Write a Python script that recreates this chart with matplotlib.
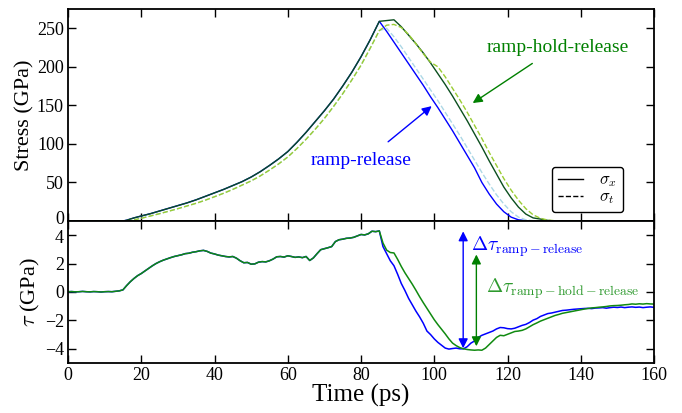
import matplotlib
matplotlib.use("Agg")
import matplotlib.pyplot as plt
from matplotlib.transforms import ScaledTranslation

plt.rcParams['font.family'] = ['Liberation Serif', 'DejaVu Serif']
plt.rcParams['mathtext.fontset'] = 'cm'

# ---------------- Stress data (GPa) ----------------
t_ramp = [0, 15, 16, 17, 18, 20, 22.5, 25, 27.5, 30, 32.5, 35, 37.5, 40, 42.5, 45,
          47.5, 50, 52.5, 55, 57.5, 60, 62.5, 65, 67.5, 70, 72.5, 75, 77.5, 80, 82.5, 85]
sx_ramp = [0, 0, 1, 2.5, 4, 6.5, 9.5, 13, 16.5, 20, 23.5, 27.5, 32, 36.5, 41, 46,
           51, 57, 64, 72, 80.5, 90, 102, 115, 129, 143, 158, 175, 193, 213, 235, 259]
st_ramp = [0, 0, 0.2, 0.5, 1.5, 3.5, 6.5, 9.5, 12.7, 16, 19.5, 23, 27, 31.5, 36, 41,
           46.5, 52, 58.5, 66, 74, 83, 94, 106, 119, 133, 148.5, 165, 183, 202, 224, 247]

t_rel = [87, 89, 91, 93, 95, 97, 99, 101, 103, 105, 107, 109, 111, 113, 115,
         117, 119, 121, 123, 125, 127, 129, 131, 133, 135, 160]
sx_rr = [246, 232, 218, 204, 190, 176, 161, 147, 132, 117, 101, 85, 69, 50, 35,
         22, 12, 5, 1.5, 0.5, 0, 0, 0, 0, 0, 0]
st_rr = [250, 239, 226, 212, 198, 184, 170, 156, 141, 126, 111, 95, 79, 63, 48,
         34, 22, 12, 5, 1.5, 0.3, 0, 0, 0, 0, 0]
sx_rhr = [260, 261, 252, 241, 230, 218, 205, 191, 177, 162, 146, 130, 113, 96, 78,
          61, 44, 30, 18, 9, 4, 2.5, 0.8, 0, 0, 0]
st_rhr = [254, 255, 251, 242, 230, 217, 206, 200, 187, 172, 157, 141, 124, 107, 89,
          72, 55, 40, 27, 16, 8, 3.5, 1.2, 0.3, 0, 0]

# ---------------- Shear stress tau (GPa) ----------------
t_tau_common = list(range(0, 86))
tau_common = [0.02, 0.03, 0.01, 0.02, 0.04, 0.02, 0.01, 0.03, 0.02, 0.0,
              0.02, 0.03, 0.02, 0.05, 0.08, 0.15, 0.45, 0.72, 0.95, 1.15,
              1.3, 1.48, 1.66, 1.84, 2.0, 2.13, 2.24, 2.33, 2.42, 2.5,
              2.56, 2.62, 2.7, 2.73, 2.8, 2.84, 2.9, 2.93, 2.86, 2.74,
              2.68, 2.6, 2.55, 2.5, 2.47, 2.5, 2.38, 2.2, 2.06, 2.08,
              1.96, 1.98, 2.1, 2.14, 2.12, 2.2, 2.32, 2.48, 2.5, 2.46,
              2.55, 2.5, 2.44, 2.47, 2.42, 2.5, 2.22, 2.4, 2.7, 2.98,
              3.05, 3.12, 3.2, 3.55, 3.68, 3.72, 3.78, 3.8, 3.85, 3.95,
              4.05, 4.02, 4.1, 4.28, 4.25, 4.3]

t_tau_tail = list(range(86, 161))
tau_rr_tail = [3.2, 2.7, 2.2, 1.85, 1.25, 0.6, 0.1, -0.45, -0.9, -1.35,
               -1.75, -2.2, -2.75, -3.0, -3.3, -3.55, -3.75, -3.95, -4.02, -3.98,
               -3.95, -4.0, -4.0, -3.85, -3.6, -3.45, -3.2, -3.05, -2.95, -2.85,
               -2.75, -2.6, -2.5, -2.52, -2.58, -2.6, -2.55, -2.45, -2.35, -2.28,
               -2.15, -1.98, -1.88, -1.72, -1.62, -1.52, -1.48, -1.42, -1.36, -1.3,
               -1.28, -1.25, -1.22, -1.2, -1.18, -1.16, -1.15, -1.17, -1.13, -1.12,
               -1.1, -1.14, -1.1, -1.07, -1.09, -1.06, -1.1, -1.07, -1.05, -1.08,
               -1.06, -1.1, -1.07, -1.05, -1.08]
tau_rhr_tail = [3.45, 2.95, 2.78, 2.75, 2.3, 1.8, 1.35, 0.95, 0.55, 0.12,
                -0.33, -0.75, -1.15, -1.55, -1.95, -2.3, -2.62, -2.95, -3.3, -3.6,
                -3.78, -3.92, -4.0, -4.05, -4.08, -4.1, -4.08, -4.1, -3.95, -3.7,
                -3.45, -3.2, -3.05, -3.08, -2.98, -2.88, -2.78, -2.75, -2.7, -2.6,
                -2.45, -2.3, -2.18, -2.05, -1.95, -1.85, -1.75, -1.65, -1.58, -1.5,
                -1.45, -1.4, -1.35, -1.3, -1.25, -1.2, -1.16, -1.12, -1.1, -1.07,
                -1.05, -1.02, -0.98, -0.96, -0.95, -0.93, -0.9, -0.88, -0.84, -0.86,
                -0.83, -0.85, -0.82, -0.84, -0.85]

stress_ticks = [0, 50, 100, 150, 200, 250]
tau_ticks = [-4, -2, 0, 2, 4]
time_ticks = [0, 20, 40, 60, 80, 100, 120, 140, 160]

# ---------------- Figure ----------------
fig = plt.figure(figsize=(6.82, 4.13), dpi=100)
W, H = 682, 413
left, right = 68 / W, 654 / W
ax1 = fig.add_axes([left, (H - 221) / H, right - left, 212 / H])
ax2 = fig.add_axes([left, (H - 363) / H, right - left, 142 / H])

t_full = t_ramp + t_rel
ax1.plot(t_full, sx_ramp + sx_rr, color='#0000ff', lw=1.0)
ax1.plot(t_full, st_ramp + st_rr, color='#add8e6', lw=1.0, ls='--')
ax1.plot(t_full, sx_ramp + sx_rhr, color='#0b4f1e', lw=1.0)
ax1.plot(t_full, st_ramp + st_rhr, color='#9acd32', lw=1.0, ls='--')

# legend proxies
h1, = ax1.plot([], [], color='black', lw=1.0, label=r'$\sigma_x$')
h2, = ax1.plot([], [], color='black', lw=1.0, ls='--', label=r'$\sigma_t$')
leg = ax1.legend(handles=[h1, h2], loc='lower right', bbox_to_anchor=(0.947, 0.042),
                 fontsize=12, handlelength=1.5, handletextpad=1.0, labelspacing=0.0,
                 borderpad=0.35, borderaxespad=0.0, fancybox=True, framealpha=1,
                 edgecolor='black')
leg.get_frame().set_linewidth(1.0)

ax1.annotate('ramp-release', xy=(99.3, 149), xytext=(80, 79), color='#0000ff',
             fontsize=14, ha='center', va='center',
             arrowprops=dict(arrowstyle='-|>', color='#0000ff', lw=1.0,
                             mutation_scale=14, shrinkA=8, shrinkB=0,
                             relpos=(0.65, 1.0)))
ax1.annotate('ramp-hold-release', xy=(110.5, 153), xytext=(133.7, 225), color='#008000',
             fontsize=14, ha='center', va='center',
             arrowprops=dict(arrowstyle='-|>', color='#008000', lw=1.0,
                             mutation_scale=14, shrinkA=6, shrinkB=0,
                             relpos=(0.4, 0.0)))

ax1.set_xlim(0, 160)
ax1.set_ylim(0, 275)
ax1.set_yticks(stress_ticks)
ax1.set_xticks(time_ticks)
ax1.set_xticklabels([])
ax1.set_ylabel('Stress (GPa)', fontsize=16, labelpad=2)

ax2.plot(t_tau_common + t_tau_tail, tau_common + tau_rr_tail, color='#0000ff', lw=1.1)
ax2.plot(t_tau_common + t_tau_tail, tau_common + tau_rhr_tail, color='#108a10', lw=1.1)

ax2.annotate('', xy=(107.9, 4.27), xytext=(107.9, -3.96),
             arrowprops=dict(arrowstyle='<|-|>', color='#0000ff', lw=1.0,
                             mutation_scale=14, shrinkA=0, shrinkB=0))
ax2.annotate('', xy=(111.5, 2.64), xytext=(111.5, -3.82),
             arrowprops=dict(arrowstyle='<|-|>', color='#008000', lw=1.0,
                             mutation_scale=14, shrinkA=0, shrinkB=0))
ax2.text(110.0, 3.2, r'$\Delta\tau_{\rm ramp-release}$', color='#0000ff',
         fontsize=14, ha='left', va='center')
ax2.text(114.0, 0.25, r'$\Delta\tau_{\rm ramp-hold-release}$', color='#2e9a2e',
         fontsize=14, ha='left', va='center')

ax2.set_xlim(0, 160)
ax2.set_ylim(-5, 5)
ax2.set_yticks(tau_ticks)
ax2.set_xticks(time_ticks)
ax2.set_ylabel(r'$\tau$ (GPa)', fontsize=16, labelpad=2)
ax2.set_xlabel('Time (ps)', fontsize=18, labelpad=0)

for ax in (ax1, ax2):
    ax.tick_params(direction='in', length=6, width=1.0, top=True, right=True,
                   labelsize=13, pad=3)
    for s in ax.spines.values():
        s.set_linewidth(1.3)
        s.set_color('black')

# nudge the top panel's "0" label up slightly so it does not collide with "4"
fig.canvas.draw()
lab0 = ax1.get_yticklabels()[0]
lab0.set_transform(lab0.get_transform() + ScaledTranslation(0, 3 / 100, fig.dpi_scale_trans))
lab4 = ax2.get_yticklabels()[-1]
lab4.set_transform(lab4.get_transform() + ScaledTranslation(0, -1 / 100, fig.dpi_scale_trans))

fig.savefig('out.png', dpi=100)
